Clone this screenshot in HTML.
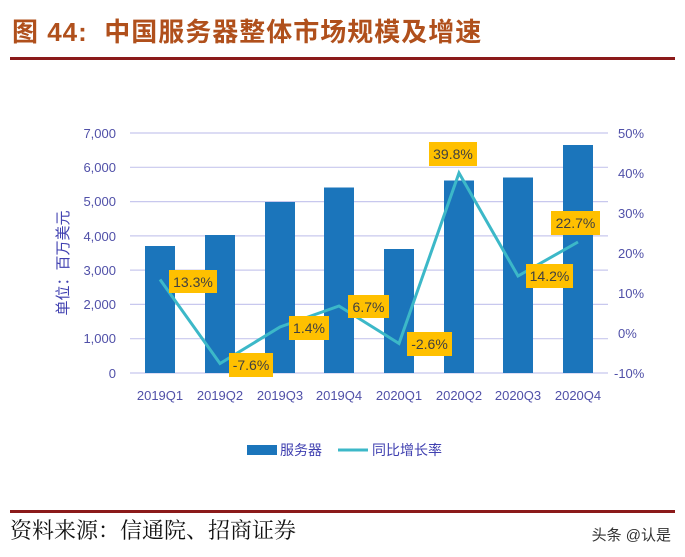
<!DOCTYPE html>
<html><head><meta charset="utf-8"><style>
body{margin:0;background:#fff;width:685px;height:557px;overflow:hidden;position:relative;font-family:"Liberation Sans","Noto Sans CJK SC",sans-serif}
.t{position:absolute;left:12px;top:12px;font-size:26px;font-weight:bold;color:#b0501c;font-family:"Liberation Sans","Noto Sans CJK SC",sans-serif;letter-spacing:1px}
.l{position:absolute;left:10px;width:665px;height:3px;background:#8b1a1a}
.s{position:absolute;left:10px;top:514px;font-size:22px;color:#111;font-family:"Liberation Serif","Noto Serif CJK SC",serif}
.w{position:absolute;right:14px;top:524px;font-size:15px;color:#333}
</style></head><body>
<div class="t">图 44:&nbsp; 中国服务器整体市场规模及增速</div>
<div class="l" style="top:57px"></div>
<svg width="685" height="557" style="position:absolute;left:0;top:0" font-family="Liberation Sans, Noto Sans CJK SC, sans-serif">
<g stroke="#c8c8ee" stroke-width="1.2">
<line x1="130" x2="608" y1="133" y2="133"/><line x1="130" x2="608" y1="167.3" y2="167.3"/><line x1="130" x2="608" y1="201.6" y2="201.6"/><line x1="130" x2="608" y1="235.9" y2="235.9"/><line x1="130" x2="608" y1="270.1" y2="270.1"/><line x1="130" x2="608" y1="304.4" y2="304.4"/><line x1="130" x2="608" y1="338.7" y2="338.7"/><line x1="130" x2="608" y1="373" y2="373"/>
</g>
<g fill="#5050a8" font-size="13" text-anchor="end">
<text x="116" y="138">7,000</text><text x="116" y="172">6,000</text><text x="116" y="206">5,000</text><text x="116" y="241">4,000</text><text x="116" y="275">3,000</text><text x="116" y="309">2,000</text><text x="116" y="343">1,000</text><text x="116" y="378">0</text>
</g>
<g fill="#5050a8" font-size="13" text-anchor="start">
<text x="618" y="138">50%</text><text x="618" y="178">40%</text><text x="618" y="218">30%</text><text x="618" y="258">20%</text><text x="618" y="298">10%</text><text x="618" y="338">0%</text><text x="614" y="378">-10%</text>
</g>
<text transform="translate(68,263) rotate(-90)" fill="#4040b0" font-size="15" text-anchor="middle">单位：百万美元</text>
<g fill="#1b75bb">
<rect x="145" y="246" width="30" height="127"/><rect x="205" y="235" width="30" height="138"/><rect x="265" y="202" width="30" height="171"/><rect x="324" y="187.5" width="30" height="185.5"/><rect x="384" y="249" width="30" height="124"/><rect x="444" y="180.5" width="30" height="192.5"/><rect x="503" y="177.5" width="30" height="195.5"/><rect x="563" y="145" width="30" height="228"/>
</g>
<polyline fill="none" stroke="#3cb8c8" stroke-width="3" points="160,279.5 220,363.5 280,327 339,306 399,343.5 459,173 518,276 578,242"/>
<g fill="#ffc000">
<rect x="169" y="270" width="48" height="23"/><rect x="229" y="353" width="44" height="24"/><rect x="289" y="316" width="40" height="24"/><rect x="348" y="295" width="41" height="23"/><rect x="407" y="332" width="45" height="24"/><rect x="429" y="142" width="48" height="24"/><rect x="526" y="264" width="47" height="24"/><rect x="551" y="211" width="49" height="24"/>
</g>
<g fill="#404040" font-size="14" text-anchor="middle">
<text x="193" y="287">13.3%</text><text x="251" y="370">-7.6%</text><text x="309" y="333">1.4%</text><text x="368.5" y="312">6.7%</text><text x="429.5" y="349">-2.6%</text><text x="453" y="159">39.8%</text><text x="549.5" y="281">14.2%</text><text x="575.5" y="228">22.7%</text>
</g>
<g fill="#5050a8" font-size="13" text-anchor="middle">
<text x="160" y="400">2019Q1</text><text x="220" y="400">2019Q2</text><text x="280" y="400">2019Q3</text><text x="339" y="400">2019Q4</text><text x="399" y="400">2020Q1</text><text x="459" y="400">2020Q2</text><text x="518" y="400">2020Q3</text><text x="578" y="400">2020Q4</text>
</g>
<rect x="247" y="445" width="30" height="10" fill="#1b75bb"/>
<text x="280" y="455" fill="#4040b0" font-size="14">服务器</text>
<line x1="338" x2="368" y1="450" y2="450" stroke="#3cb8c8" stroke-width="3"/>
<text x="372" y="455" fill="#4040b0" font-size="14">同比增长率</text>
</svg>
<div class="l" style="top:510px"></div>
<div class="s">资料来源：信通院、招商证券</div>
<div class="w">头条 @认是</div>
</body></html>
